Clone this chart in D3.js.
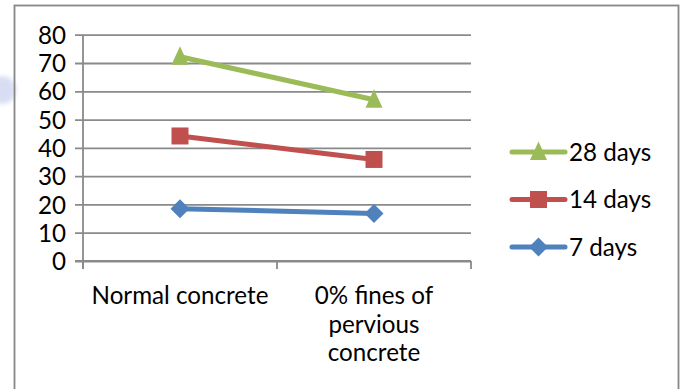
<!DOCTYPE html>
<html>
<head>
<meta charset="utf-8">
<script src="https://cdn.jsdelivr.net/npm/d3@7"></script>
<style>
  html, body { margin: 0; padding: 0; background: #fff; }
  svg { display: block; font-family: Lato, "Open Sans", sans-serif; }
</style>
</head>
<body>
<svg id="chart" width="683" height="389"></svg>
<script>
// Compressive strength by mix and curing age
const categories = ["Normal concrete", "0% fines of pervious concrete"];
const categoryLines = [["Normal concrete"], ["0% fines of", "pervious", "concrete"]];
const days7 = [18.5, 16.8];
const days14 = [44.2, 35.9];
const days28 = [72.2, 57.0];
const yTicks = [0, 10, 20, 30, 40, 50, 60, 70, 80];
const seriesNames = ["28 days", "14 days", "7 days"];

const series = [
  { name: seriesNames[0], values: days28, color: "#9BBB59", marker: "triangle" },
  { name: seriesNames[1], values: days14, color: "#C0504D", marker: "square" },
  { name: seriesNames[2], values: days7,  color: "#4F81BD", marker: "diamond" }
];

const svg = d3.select("#chart");
const plot = { left: 83, right: 471, top: 34.7, bottom: 261 };
const gridColor = "#8a8a8a";
const fontSize = 24.2;

// page watermark blob at far left
svg.append("circle").attr("cx", 2).attr("cy", 90).attr("r", 14)
  .attr("fill", "#c9d0ee").attr("opacity", 0.7).style("filter", "blur(2px)");

// chart frame
svg.append("rect").attr("x", 14.5).attr("y", 5.5).attr("width", 664).attr("height", 400)
  .attr("fill", "none").attr("stroke", "#878787").attr("stroke-width", 1.8);

const x = d3.scaleBand().domain(categories).range([plot.left, plot.right]).paddingInner(0).paddingOuter(0);
const y = d3.scaleLinear().domain([0, 80]).range([plot.bottom, plot.top]);
const cx = c => x(c) + x.bandwidth() / 2;

// horizontal gridlines with outer ticks and labels
const yAxis = d3.axisLeft(y).tickValues(yTicks).tickSize(-(plot.right - plot.left)).tickSizeOuter(0).tickPadding(17);
const gy = svg.append("g").attr("transform", `translate(${plot.left},0)`).call(yAxis);
gy.select(".domain").remove();
gy.selectAll(".tick line")
  .attr("x1", -8)
  .attr("stroke", gridColor).attr("stroke-width", 1.8);
gy.selectAll(".tick text")
  .attr("fill", "#000").attr("font-size", fontSize).attr("font-family", "Lato, sans-serif")
  .attr("dy", "0.36em");

// vertical axis line
svg.append("line").attr("x1", plot.left).attr("x2", plot.left)
  .attr("y1", plot.top).attr("y2", plot.bottom + 8)
  .attr("stroke", gridColor).attr("stroke-width", 1.8);

// category axis with tick marks at band boundaries
const xAxisLine = svg.append("g");
xAxisLine.append("line").attr("x1", plot.left - 8).attr("x2", plot.right)
  .attr("y1", plot.bottom).attr("y2", plot.bottom)
  .attr("stroke", gridColor).attr("stroke-width", 1.8);
const boundaries = categories.map(c => x(c)).concat([plot.right]);
xAxisLine.selectAll("line.tk").data(boundaries).join("line").attr("class", "tk")
  .attr("x1", d => d).attr("x2", d => d)
  .attr("y1", plot.bottom).attr("y2", plot.bottom + 8)
  .attr("stroke", gridColor).attr("stroke-width", 1.8);

// category labels (wrapped)
const labelG = svg.append("g");
categories.forEach((c, i) => {
  const t = labelG.append("text").attr("text-anchor", "middle")
    .attr("font-size", fontSize).attr("fill", "#000");
  categoryLines[i].forEach((ln, j) => {
    t.append("tspan").attr("x", cx(c)).attr("y", 304 + j * 28.5).text(ln);
  });
});

// marker shapes
function markerPath(type) {
  if (type === "triangle") return "M0,-10.5 L8.5,8 L-8.5,8 Z";
  if (type === "square") return "M-8.5,-8.5 H8.5 V8.5 H-8.5 Z";
  return "M0,-9.5 L9.5,0 L0,9.5 L-9.5,0 Z";
}

const line = d3.line().x((d, i) => cx(categories[i])).y(d => y(d));

// draw series bottom-up so the top series stays on top
[...series].reverse().forEach(s => {
  svg.append("path").datum(s.values).attr("d", line)
    .attr("fill", "none").attr("stroke", s.color).attr("stroke-width", 5)
    .attr("stroke-linecap", "round");
  svg.append("g").selectAll("path").data(s.values).join("path")
    .attr("transform", (d, i) => `translate(${cx(categories[i])},${y(d)})`)
    .attr("d", markerPath(s.marker)).attr("fill", s.color);
});

// legend
const legendY = [152, 199.5, 247];
const lg = svg.append("g");
series.forEach((s, i) => {
  const g = lg.append("g").attr("transform", `translate(0,${legendY[i]})`);
  g.append("line").attr("x1", 512).attr("x2", 565).attr("y1", 0).attr("y2", 0)
    .attr("stroke", s.color).attr("stroke-width", 5).attr("stroke-linecap", "round");
  g.append("path").attr("transform", "translate(538.5,0)").attr("d", markerPath(s.marker)).attr("fill", s.color);
  g.append("text").attr("x", 569).attr("y", 0).attr("dy", "0.36em")
    .attr("font-size", fontSize).attr("fill", "#000").text(s.name);
});
</script>
</body>
</html>
